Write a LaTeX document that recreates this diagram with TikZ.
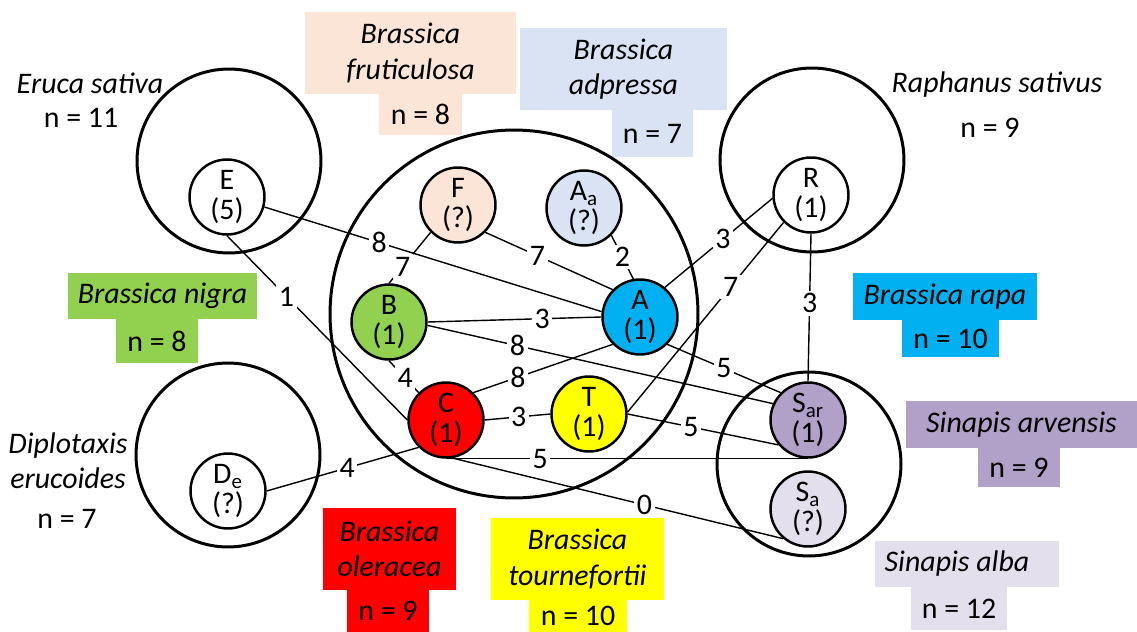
\documentclass[tikz,border=0pt]{standalone}
\usepackage{fontspec}
\setmainfont{Carlito}
\definecolor{frutcol}{HTML}{FBE5D6}
\definecolor{adprcol}{HTML}{DAE3F3}
\definecolor{nigrcol}{HTML}{92D050}
\definecolor{rapacol}{HTML}{00B0F0}
\definecolor{olercol}{HTML}{FF0000}
\definecolor{tourcol}{HTML}{FFFF00}
\definecolor{arvecol}{HTML}{B1A0C7}
\definecolor{albacol}{HTML}{E4DFEC}
\tikzstyle{species} = [draw, circle, line width=1.7pt, minimum size=3.68cm]
\tikzstyle{genome} = [draw, circle, line width=1.4pt, minimum size=1.5cm, inner sep=0pt, align=center, font=\fontsize{17}{17}\selectfont]
\tikzstyle{namebox} = [rectangle, inner sep=0pt, align=center, font=\fontsize{17}{20}\selectfont\itshape]
\tikzstyle{nbox} = [rectangle, inner sep=0pt, font=\fontsize{17}{20}\selectfont]
\tikzstyle{link} = [line width=0.8pt]
\tikzstyle{dist} = [fill=white, inner sep=1.5pt, font=\fontsize{17}{17}\selectfont]

\begin{document}
\begin{tikzpicture}[x=0.02cm, y=-0.02cm]
    \useasboundingbox (0,0) rectangle (1137,632);
    % coloured name tags
    \node[namebox, fill=frutcol, minimum width=4.22cm, minimum height=1.64cm] (frut) at (410.5,53) {Brassica\\fruticulosa};
    \node[nbox, fill=frutcol, minimum width=1.66cm, minimum height=0.82cm] (frutn) at (420.5,114.5) {n = 8};
    \node[namebox, fill=adprcol, minimum width=4.14cm, minimum height=1.64cm] (adpr) at (623.5,69) {Brassica\\adpressa};
    \node[nbox, fill=adprcol, minimum width=1.62cm, minimum height=0.94cm] (adprn) at (652.5,133.5) {n = 7};
    \node[namebox, fill=nigrcol, minimum width=3.78cm, minimum height=0.92cm] (nigr) at (162.5,296) {Brassica nigra};
    \node[nbox, fill=nigrcol, minimum width=1.64cm, minimum height=0.88cm] (nigrn) at (157,341) {n = 8};
    \node[namebox, fill=rapacol, minimum width=3.68cm, minimum height=0.94cm] (rapa) at (945,296.5) {Brassica rapa};
    \node[nbox, fill=rapacol, minimum width=1.94cm, minimum height=0.74cm] (rapan) at (950.5,338.5) {n = 10};
    \node[namebox, fill=olercol, minimum width=2.66cm, minimum height=1.64cm] (oler) at (389.5,549) {Brassica\\oleracea};
    \node[nbox, fill=olercol, minimum width=1.64cm, minimum height=0.84cm] (olern) at (388,611) {n = 9};
    \node[namebox, fill=tourcol, minimum width=3.46cm, minimum height=1.64cm] (tour) at (577.5,559) {Brassica\\tournefortii};
    \node[nbox, fill=tourcol, minimum width=1.96cm, minimum height=0.64cm] (tourn) at (578,616) {n = 10};
    \node[namebox, fill=arvecol, minimum width=4.62cm, minimum height=0.94cm] (arve) at (1021.5,424.5) {Sinapis arvensis};
    \node[nbox, fill=arvecol, minimum width=1.64cm, minimum height=0.78cm] (arven) at (1019,467.5) {n = 9};
    \node[namebox, fill=albacol, minimum width=3.68cm, minimum height=0.92cm] (alba) at (967,564) {Sinapis alba\hspace{0.4cm}};
    \node[nbox, fill=albacol, minimum width=1.92cm, minimum height=0.86cm] (alban) at (959,608.5) {n = 12};
    % plain labels
    \node[namebox] (erucatxt) at (90,83) {Eruca sativa};
    \node[nbox] (erucan) at (81,118) {n = 11};
    \node[namebox] (raphtxt) at (997,85) {Raphanus sativus};
    \node[nbox] (raphn) at (990,128) {n = 9};
    \node[namebox] (dipltxt) at (68,460.5) {Diplotaxis\\erucoides};
    \node[nbox] (dipln) at (67,519) {n = 7};
    % species circles
    \node[species] (eruca) at (229,161) {};
    \node[species] (raph) at (812,160) {};
    \node[species] (dipl) at (228,455) {};
    \node[species] (sinap) at (809,464) {};
    \node[species, minimum size=7.36cm] (bras) at (514,314) {};
    % genomes
    \node[genome, fill=white] (E) at (227,197) {E\\(5)};
    \node[genome, fill=frutcol] (F) at (458,205) {F\\(?)};
    \node[genome, fill=adprcol] (Aa) at (584,208) {A\textsubscript{a}\\(?)};
    \node[genome, fill=rapacol] (A) at (640,317) {A\\(1)};
    \node[genome, fill=nigrcol] (B) at (389,322) {B\\(1)};
    \node[genome, fill=olercol] (C) at (446,420) {C\\(1)};
    \node[genome, fill=tourcol] (T) at (589,414) {T\\(1)};
    \node[genome, fill=white] (R) at (811,195) {R\\(1)};
    \node[genome, fill=arvecol] (Sar) at (808,420) {S\textsubscript{ar}\\(1)};
    \node[genome, fill=albacol] (Sa) at (808,509) {S\textsubscript{a}\\(?)};
    \node[genome, fill=white] (De) at (228,491) {D\textsubscript{e}\\(?)};
    % distances
    \draw[link] (E.-15) -- node[dist, pos=0.34] (dEA) {8} (A.172);
    \draw[link] (E.south) -- node[dist, pos=0.33] (dEC) {1} (C.west);
    \draw[link] (F.225) -- node[dist, pos=0.67] (dFB) {7} (B.north);
    \draw[link] (F.-45) -- node[dist, pos=0.41] (dFA) {7} (A.135);
    \draw[link] (Aa.-45) -- node[dist, pos=0.5] (dAaA) {2} (A.100);
    \draw[link] (B.east) -- node[dist, pos=0.66] (dBA) {3} (A.west);
    \draw[link] (B.-5) -- node[dist, pos=0.26] (dBS) {8} (Sar.155);
    \draw[link] (B.south) -- node[dist, pos=0.55] (dBC) {4} (C.135);
    \draw[link] (C.45) -- node[dist, pos=0.32] (dCA) {8} (A.225);
    \draw[link] (C.east) -- node[dist, pos=0.52] (dCT) {3} (T.west);
    \draw[link] (C.south) -- node[dist, pos=0.26] (dCS) {5} (Sar.south);
    \draw[link] (C.-80) -- node[dist, pos=0.58] (dCSa) {0} (Sa.230);
    \draw[link] (De.east) -- node[dist, pos=0.53] (dDC) {4} (C.225);
    \draw[link] (A.50) -- node[dist, pos=0.54] (dAR) {3} (R.185);
    \draw[link] (A.-45) -- node[dist, pos=0.5] (dAS) {5} (Sar.135);
    \draw[link] (T.3) -- node[dist, pos=0.66] (dTR) {7} (R.225);
    \draw[link] (T.east) -- node[dist, pos=0.42] (dTS) {5} (Sar.220);
    \draw[link] (R.south) -- node[dist, pos=0.47] (dRS) {3} (Sar.north);
\end{tikzpicture}
\end{document}
